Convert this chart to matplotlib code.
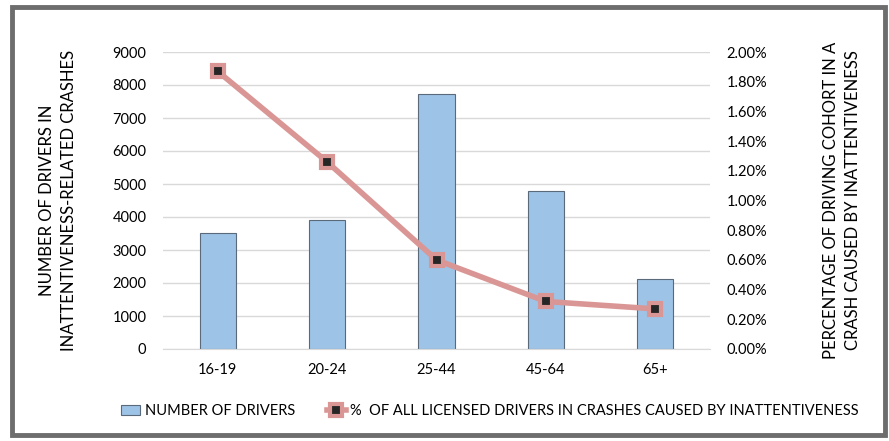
import matplotlib.pyplot as plt
from matplotlib.patches import Rectangle
from matplotlib.ticker import FuncFormatter

age_groups = ['16-19', '20-24', '25-44', '45-64', '65+']
num_drivers = [3520, 3900, 7720, 4780, 2130]
pct_licensed = [1.87, 1.26, 0.60, 0.32, 0.27]

plt.rcParams['font.family'] = ['Lato', 'DejaVu Sans']

fig = plt.figure(figsize=(8.89, 4.41), dpi=100)
ax = fig.add_axes([163 / 889, 1 - 349 / 441, 547 / 889, 297 / 441])
ax2 = ax.twinx()

x = range(len(age_groups))
bars = ax.bar(x, num_drivers, width=0.33, color='#9dc3e6', edgecolor='#5a6a7a', linewidth=0.8,
              label='NUMBER OF DRIVERS', zorder=2)
ax.set_ylim(0, 9000)
ax.set_yticks(range(0, 9001, 1000))
ax.set_xlim(-0.5, 4.5)
ax.set_xticks(list(x))
ax.set_xticklabels(age_groups)
ax.grid(axis='y', color='#d9d9d9', linewidth=1, zorder=0)
ax.set_axisbelow(True)

line, = ax2.plot(list(x), pct_licensed, color='#d99694', linewidth=4, marker='s', markersize=8,
                 markerfacecolor='#262626', markeredgecolor='#d99694', markeredgewidth=3,
                 label='%  OF ALL LICENSED DRIVERS IN CRASHES CAUSED BY INATTENTIVENESS', zorder=3)
ax2.set_ylim(0, 2.0)
ax2.set_yticks([i * 0.2 for i in range(11)])
ax2.yaxis.set_major_formatter(FuncFormatter(lambda v, p: '%.2f%%' % v))

for a in (ax, ax2):
    for s in a.spines.values():
        s.set_visible(False)
    a.tick_params(length=0, labelsize=10.5, colors='#000000')
ax.spines['bottom'].set_visible(True)
ax.spines['bottom'].set_color('#d9d9d9')
ax.tick_params(axis='y', pad=12)
ax.tick_params(axis='x', pad=10)
ax2.tick_params(axis='y', pad=12)

ax.set_ylabel('NUMBER OF DRIVERS IN\nINATTENTIVENESS-RELATED CRASHES', fontsize=12, labelpad=25,
              linespacing=1.5)
ax2.set_ylabel('PERCENTAGE OF DRIVING COHORT IN A\nCRASH CAUSED BY INATTENTIVENESS', fontsize=12,
               labelpad=40, rotation=90, linespacing=1.5)

fig.legend(handles=[bars, line], loc='center', bbox_to_anchor=(490 / 889, 1 - 411 / 441), ncol=2,
           frameon=False, fontsize=10.5, handlelength=1.3, columnspacing=2.2, handletextpad=0.3)

fig.patches.append(Rectangle((12 / 889, 6 / 441), 873 / 889, 428 / 441, transform=fig.transFigure,
                             fill=False, edgecolor='#6d6d6d', linewidth=3.5))

fig.savefig('out.png', dpi=100)
